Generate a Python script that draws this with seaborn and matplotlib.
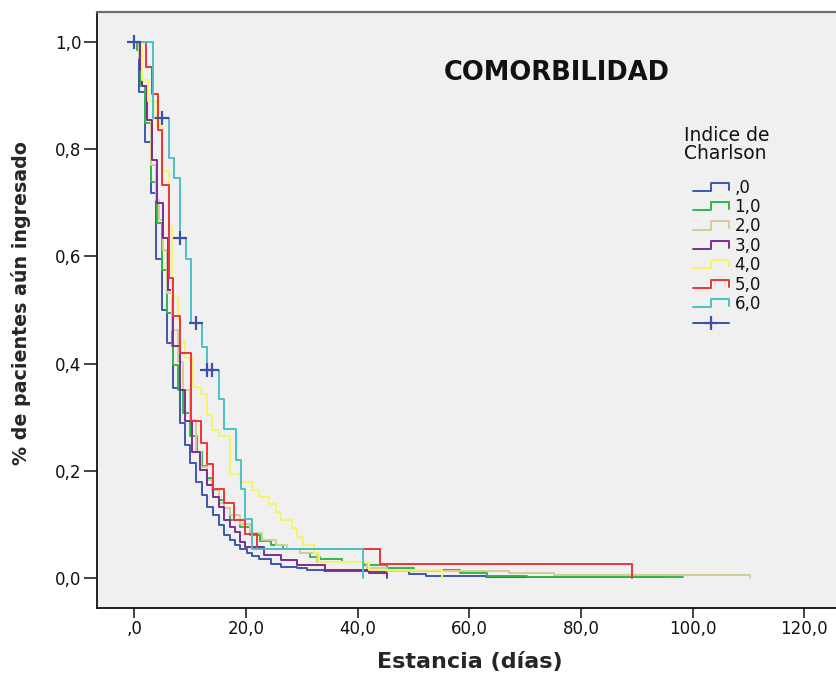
import matplotlib
matplotlib.use("Agg")
import matplotlib.pyplot as plt
import numpy as np
import pandas as pd
import seaborn as sns
from matplotlib.lines import Line2D
from matplotlib.legend_handler import HandlerBase

# Kaplan-Meier: proportion of patients still admitted, by Charlson comorbidity index
grupos = [",0", "1,0", "2,0", "3,0", "4,0", "5,0", "6,0"]

t_0 = [0, 0.9, 2.0, 3.0, 3.9, 5.0, 5.9, 7.0, 8.1, 9.0, 10.0, 11.1, 12.1, 13.0, 14.1, 15.1,
       16.0, 17.1, 18.1, 19.0, 20.1, 21.1, 22.3, 24.4, 26.2, 29.2, 31.0, 33.9, 49.2, 52.2,
       62.9, 94.2]
s_0 = [1.0, 0.907, 0.813, 0.718, 0.595, 0.500, 0.438, 0.354, 0.289, 0.248, 0.215, 0.180,
       0.155, 0.133, 0.118, 0.099, 0.080, 0.071, 0.062, 0.055, 0.047, 0.041, 0.035, 0.027,
       0.021, 0.018, 0.015, 0.013, 0.0075, 0.0037, 0.0013, 0.0013]

t_1 = [0, 0.5, 1.2, 2.0, 3.0, 4.1, 5.0, 5.9, 6.8, 7.0, 7.9, 8.8, 10.0, 11.2, 12.2, 13.1,
       14.0, 15.1, 16.1, 17.2, 19.0, 20.8, 22.6, 24.4, 26.7, 29.7, 31.5, 33.3, 37.2, 41.1,
       45.3, 50.1, 58.4, 63.2, 70.4, 98.3]
s_1 = [1.0, 0.985, 0.917, 0.848, 0.739, 0.662, 0.575, 0.494, 0.432, 0.397, 0.350, 0.308,
       0.264, 0.235, 0.209, 0.187, 0.164, 0.146, 0.131, 0.108, 0.095, 0.080, 0.069, 0.062,
       0.055, 0.046, 0.039, 0.035, 0.030, 0.024, 0.018, 0.015, 0.010, 0.0037, 0.0013, 0.0013]

t_2 = [0, 0.8, 1.4, 2.3, 3.0, 3.9, 4.4, 5.2, 5.9, 6.8, 7.9, 8.8, 10.0, 11.1, 12.0, 13.1,
       14.0, 15.1, 16.1, 17.2, 19.0, 20.8, 22.9, 25.3, 27.4, 29.7, 32.8, 41.7, 45.3, 67.1,
       75.1, 110.3]
s_2 = [1.0, 0.970, 0.917, 0.854, 0.771, 0.705, 0.668, 0.612, 0.532, 0.463, 0.403, 0.351,
       0.295, 0.235, 0.207, 0.183, 0.164, 0.140, 0.131, 0.118, 0.101, 0.084, 0.071, 0.062,
       0.054, 0.047, 0.030, 0.018, 0.013, 0.010, 0.0056, 0.0]

t_3 = [0, 1.0, 1.3, 2.2, 3.1, 4.1, 5.1, 6.1, 6.9, 8.1, 9.1, 10.3, 11.8, 13.1, 14.1, 15.1,
       16.1, 17.2, 18.1, 19.0, 19.9, 23.2, 26.2, 29.2, 34.2, 42.0, 45.2]
s_3 = [1.0, 0.948, 0.917, 0.854, 0.780, 0.699, 0.634, 0.537, 0.432, 0.351, 0.292, 0.236,
       0.201, 0.174, 0.152, 0.133, 0.108, 0.096, 0.086, 0.068, 0.058, 0.043, 0.034, 0.024,
       0.015, 0.010, 0.0]

t_4 = [0, 1.3, 2.4, 4.1, 5.2, 6.2, 6.8, 7.9, 8.2, 9.1, 10.6, 12.0, 13.0, 13.9, 15.1, 17.1,
       19.0, 21.1, 22.3, 24.1, 25.3, 26.2, 28.3, 29.2, 30.3, 32.1, 33.0, 42.0, 55.05]
s_4 = [1.0, 0.930, 0.890, 0.842, 0.760, 0.655, 0.525, 0.481, 0.441, 0.410, 0.357, 0.343,
       0.304, 0.276, 0.264, 0.194, 0.180, 0.165, 0.152, 0.138, 0.123, 0.108, 0.093, 0.077,
       0.062, 0.046, 0.030, 0.015, 0.0]

t_5 = [0, 2.1, 3.2, 4.2, 5.0, 6.15, 7.0, 8.1, 10.2, 12.0, 13.0, 14.1, 16.0, 17.9, 19.9,
       21.9, 44.0, 89.1]
s_5 = [1.0, 0.953, 0.903, 0.836, 0.733, 0.559, 0.489, 0.420, 0.292, 0.252, 0.213, 0.166,
       0.139, 0.109, 0.083, 0.055, 0.027, 0.0]

t_6 = [0, 3.3, 6.15, 7.17, 8.1, 9.2, 10.16, 12.19, 12.95, 15.18, 16.0, 18.15, 19.18, 19.9,
       21.1, 41.0]
s_6 = [1.0, 0.858, 0.784, 0.746, 0.634, 0.595, 0.475, 0.431, 0.388, 0.334, 0.278, 0.221,
       0.166, 0.110, 0.055, 0.0]

# censored observations
cens_t = [0.0, 5.0, 8.1, 11.05, 13.0, 13.9]
cens_s = [1.0, 0.858, 0.634, 0.475, 0.388, 0.388]

x_ticks = [0, 20, 40, 60, 80, 100, 120]
x_tick_labels = [",0", "20,0", "40,0", "60,0", "80,0", "100,0", "120,0"]
y_ticks = [0.0, 0.2, 0.4, 0.6, 0.8, 1.0]
y_tick_labels = ["0,0", "0,2", "0,4", "0,6", "0,8", "1,0"]

colores = ["#3E58AC", "#2EB848", "#D3CE97", "#7B2D8F", "#F8F46A", "#EF3338", "#48C2C5"]
color_censura = "#3E4FA8"

tiempos = [t_0, t_1, t_2, t_3, t_4, t_5, t_6]
supervivencia = [s_0, s_1, s_2, s_3, s_4, s_5, s_6]
df = pd.concat(
    [pd.DataFrame({"Estancia": t, "S": s, "Charlson": g, "orden": np.arange(len(t))})
     for g, t, s in zip(grupos, tiempos, supervivencia)],
    ignore_index=True,
)
df_cens = pd.DataFrame({"Estancia": cens_t, "S": cens_s})

sns.set_style("ticks")
plt.rcParams["font.family"] = ["DejaVu Sans"]
plt.rcParams["text.color"] = "#111111"

fig = plt.figure(figsize=(8.36, 6.75), dpi=100)
fig.patch.set_facecolor("white")
W, H = 836, 675
ax = fig.add_axes([97 / W, 67 / H, (842 - 97) / W, 596 / H])
ax.set_facecolor("#F0F0F0")

paleta = dict(zip(grupos, colores))
sns.lineplot(data=df, x="Estancia", y="S", hue="Charlson", hue_order=grupos,
             palette=paleta, estimator=None, sort=False, units="Charlson",
             drawstyle="steps-post", linewidth=1.4, legend=False, ax=ax)
sns.scatterplot(data=df_cens, x="Estancia", y="S", marker="+", s=110,
                color=color_censura, linewidth=1.6, zorder=5, ax=ax)

px_x = 5.584
ax.set_xlim((97 - 134.3) / px_x, (842 - 134.3) / px_x)
ax.set_ylim(-30 / 536, 1 + 30 / 536)
ax.set_xticks(x_ticks, x_tick_labels)
ax.set_yticks(y_ticks, y_tick_labels)
ax.tick_params(axis="x", length=7, width=1.1, pad=2, labelsize=12, colors="#111111")
ax.tick_params(axis="y", length=9.5, width=1.1, pad=1.5, labelsize=12, colors="#111111")
for lado in ["left", "bottom"]:
    ax.spines[lado].set_color("#111111")
    ax.spines[lado].set_linewidth(1.3)
ax.spines["top"].set_color("#6E6E6E")
ax.spines["top"].set_linewidth(1.6)
ax.spines["right"].set_visible(False)

ax.set_xlabel("Estancia (días)", fontsize=16, fontweight="bold")
ax.set_ylabel("% de pacientes aún ingresado", fontsize=13.7, fontweight="bold")
ax.xaxis.set_label_coords(0.5, -0.074)
ax.yaxis.set_label_coords(-0.088, 0.512)

fig.text(557 / W, 1 - 73 / H, "COMORBILIDAD", fontsize=18.5, fontweight="bold",
         ha="center", va="center")


class StepHandler(HandlerBase):
    """Legend key drawn as a small survival step."""

    def create_artists(self, legend, orig_handle, xdescent, ydescent, width, height,
                       fontsize, trans):
        x0 = -xdescent
        x1 = x0 + width
        xm = x0 + 0.5 * width
        y_lo = -ydescent + 0.15 * height
        y_hi = -ydescent + 0.85 * height
        linea = Line2D([x0, xm, xm, x1, x1], [y_lo, y_lo, y_hi, y_hi, y_lo + 0.1 * height],
                       color=orig_handle.get_color(), linewidth=orig_handle.get_linewidth(),
                       transform=trans)
        return [linea]


claves = [Line2D([], [], color=c, linewidth=1.4) for c in colores]
clave_cens = Line2D([], [], color=color_censura, linewidth=1.4, marker="+",
                    markersize=10, markeredgewidth=1.6)
mapa = {h: StepHandler() for h in claves}
leg = ax.legend(claves + [clave_cens], grupos + [""], handler_map=mapa,
                loc="upper center", bbox_to_anchor=(727 / W, 1 - 126 / H),
                bbox_transform=fig.transFigure, frameon=False, fontsize=12,
                title="Indice de\nCharlson", title_fontsize=13.5, handlelength=2.15,
                handleheight=0.7, handletextpad=0.35, labelspacing=0.085, borderpad=0,
                borderaxespad=0, numpoints=1)
leg.get_title().set_linespacing(0.95)
leg._legend_box.sep = 11

fig.savefig("out.png", dpi=100, facecolor="white")
